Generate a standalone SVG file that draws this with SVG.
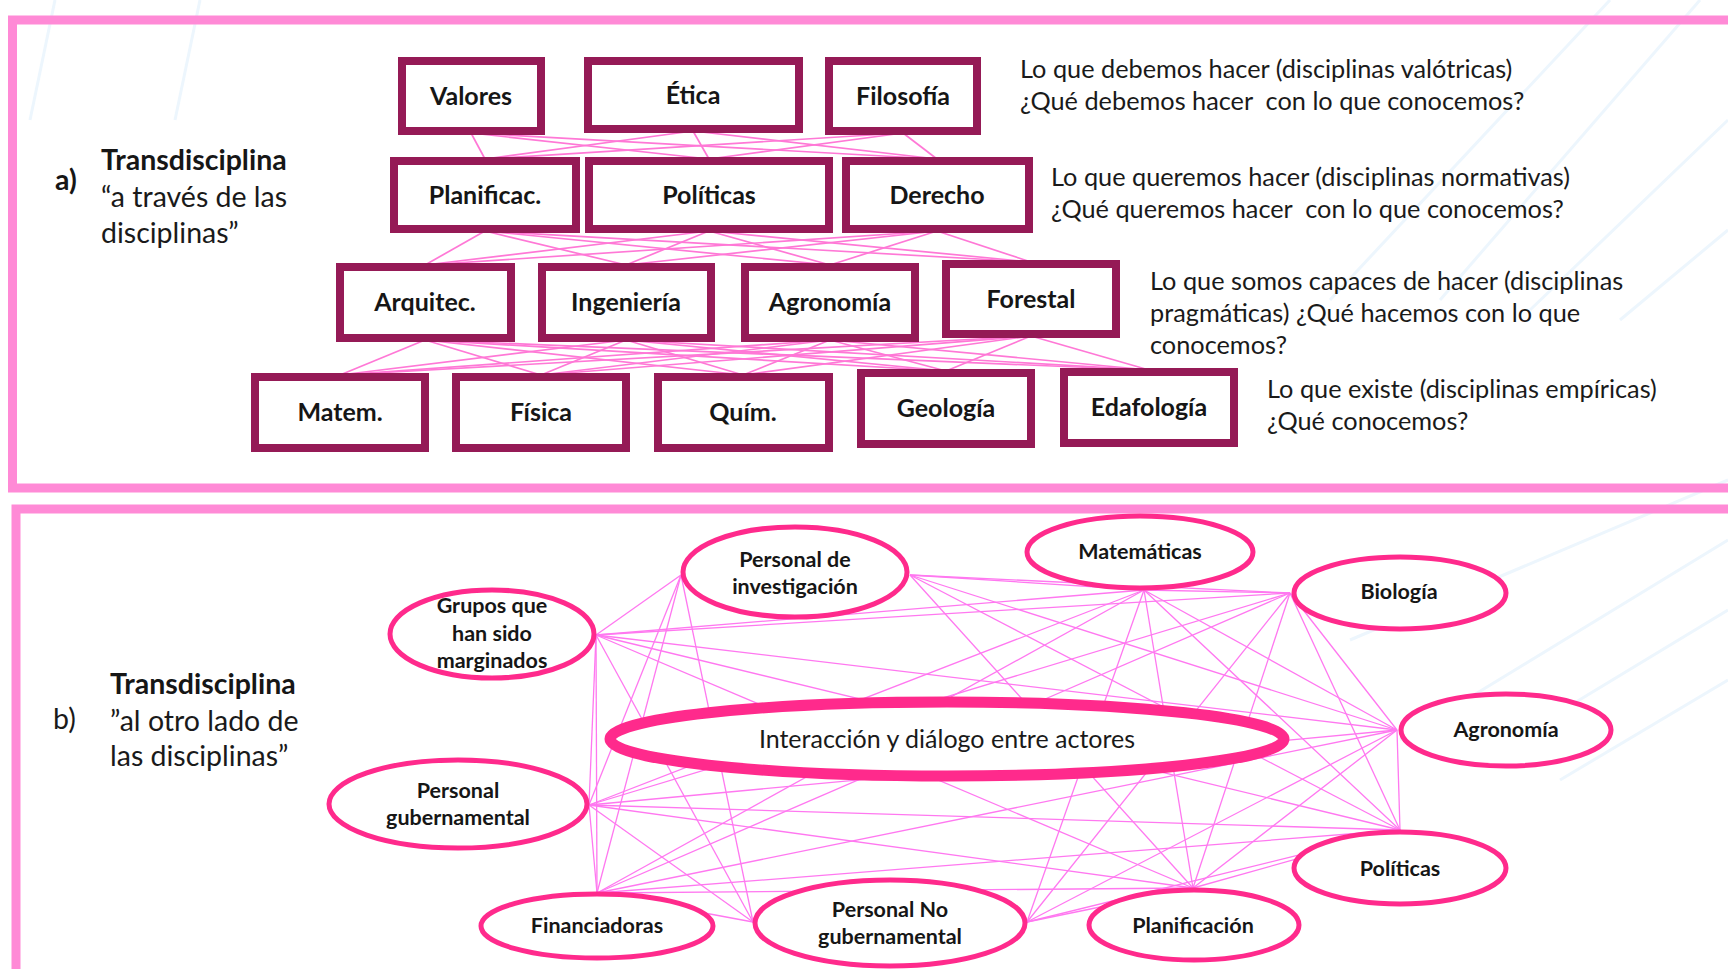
<svg xmlns="http://www.w3.org/2000/svg" width="1728" height="969" viewBox="0 0 1728 969">
  <style>
    .panel { fill: none; stroke: #ff8ad6; stroke-width: 9; }
    .bg { stroke: #edf6fd; stroke-width: 3; fill: none; }
    .box rect { fill: #ffffff; stroke: #951a56; stroke-width: 8; }
    .box text { font-family: Lato, "Open Sans", "Liberation Sans", sans-serif; font-weight: 700; font-size: 25px; fill: #161616; text-anchor: middle; }
    .link-a line { stroke: #ff78d6; stroke-width: 1.7; }
    .link-b line { stroke: #ff78f0; stroke-width: 1.3; }
    .actor ellipse { fill: #ffffff; stroke: #ff2a8c; stroke-width: 5; }
    .actor text { font-family: Lato, "Open Sans", "Liberation Sans", sans-serif; font-weight: 700; font-size: 21.5px; fill: #161616; text-anchor: middle; }
    .hub ellipse { fill: #ffffff; stroke: #ff2a8c; stroke-width: 11; }
    .hub text { font-family: Lato, "Open Sans", "Liberation Sans", sans-serif; font-size: 25px; fill: #1a1a1a; text-anchor: middle; }
    .lbl { font-family: Lato, "Open Sans", "Liberation Sans", sans-serif; font-size: 28.5px; fill: #1a1a1a; }
    .lbl-b { font-family: Lato, "Open Sans", "Liberation Sans", sans-serif; font-size: 28.5px; font-weight: 700; fill: #161616; }
    .desc { font-family: Lato, "Open Sans", "Liberation Sans", sans-serif; font-size: 25.3px; fill: #1a1a1a; }
  </style>

  <rect width="1728" height="969" fill="#ffffff"/>

  <!-- faint diagonal background strokes -->
  <g id="background">
    <line class="bg" x1="1440" y1="300" x2="1700" y2="0"/>
    <line class="bg" x1="1330" y1="300" x2="1610" y2="0"/>
    <line class="bg" x1="1530" y1="310" x2="1728" y2="120"/>
    <line class="bg" x1="1620" y1="320" x2="1728" y2="230"/>
    <line class="bg" x1="1400" y1="740" x2="1728" y2="540"/>
    <line class="bg" x1="1480" y1="760" x2="1728" y2="610"/>
    <line class="bg" x1="1560" y1="780" x2="1728" y2="680"/>
    <line class="bg" x1="1350" y1="640" x2="1728" y2="480"/>
    <line class="bg" x1="30" y1="120" x2="55" y2="0"/>
    <line class="bg" x1="175" y1="120" x2="200" y2="0"/>
  </g>

  <!-- panel frames -->
  <rect class="panel" x="12.5" y="20" width="1740" height="468"/>
  <rect class="panel" x="16" y="509" width="1740" height="480"/>

  <!-- panel labels -->
  <g id="label-a">
    <text class="lbl-b" x="55" y="190" font-size="30">a)</text>
    <text class="lbl-b" x="101" y="170">Transdisciplina</text>
    <text class="lbl" x="101" y="207">“a través de las</text>
    <text class="lbl" x="101" y="243">disciplinas”</text>
  </g>
  <g id="label-b">
    <text class="lbl" x="53" y="729">b)</text>
    <text class="lbl-b" x="110" y="694">Transdisciplina</text>
    <text class="lbl" x="110" y="731">”al otro lado de</text>
    <text class="lbl" x="110" y="766">las disciplinas”</text>
  </g>

  <!-- row descriptions -->
  <g id="descriptions">
    <text class="desc" x="1020" y="78">Lo que debemos hacer (disciplinas valótricas)</text>
    <text class="desc" x="1020" y="110" xml:space="preserve">¿Qué debemos hacer  con lo que conocemos?</text>
    <text class="desc" x="1051" y="186">Lo que queremos hacer (disciplinas normativas)</text>
    <text class="desc" x="1051" y="218" xml:space="preserve">¿Qué queremos hacer  con lo que conocemos?</text>
    <text class="desc" x="1150" y="290">Lo que somos capaces de hacer (disciplinas</text>
    <text class="desc" x="1150" y="322">pragmáticas) ¿Qué hacemos con lo que</text>
    <text class="desc" x="1150" y="354">conocemos?</text>
    <text class="desc" x="1267" y="398">Lo que existe (disciplinas empíricas)</text>
    <text class="desc" x="1267" y="430">¿Qué conocemos?</text>
  </g>

  <!-- connectors between discipline rows -->
  <g id="connectors-a" class="link-a">
    <line x1="471" y1="133" x2="485" y2="159"/>
    <line x1="471" y1="133" x2="709" y2="159"/>
    <line x1="471" y1="133" x2="937" y2="159"/>
    <line x1="693" y1="131" x2="485" y2="159"/>
    <line x1="693" y1="131" x2="709" y2="159"/>
    <line x1="693" y1="131" x2="937" y2="159"/>
    <line x1="903" y1="133" x2="485" y2="159"/>
    <line x1="903" y1="133" x2="709" y2="159"/>
    <line x1="903" y1="133" x2="937" y2="159"/>

    <line x1="485" y1="231" x2="425" y2="265"/>
    <line x1="485" y1="231" x2="626" y2="265"/>
    <line x1="485" y1="231" x2="830" y2="265"/>
    <line x1="485" y1="231" x2="1031" y2="262"/>
    <line x1="709" y1="231" x2="425" y2="265"/>
    <line x1="709" y1="231" x2="626" y2="265"/>
    <line x1="709" y1="231" x2="830" y2="265"/>
    <line x1="709" y1="231" x2="1031" y2="262"/>
    <line x1="937" y1="231" x2="425" y2="265"/>
    <line x1="937" y1="231" x2="626" y2="265"/>
    <line x1="937" y1="231" x2="830" y2="265"/>
    <line x1="937" y1="231" x2="1031" y2="262"/>

    <line x1="425" y1="340" x2="340" y2="375"/>
    <line x1="425" y1="340" x2="541" y2="375"/>
    <line x1="425" y1="340" x2="743" y2="375"/>
    <line x1="425" y1="340" x2="946" y2="371"/>
    <line x1="425" y1="340" x2="1149" y2="370"/>
    <line x1="626" y1="340" x2="340" y2="375"/>
    <line x1="626" y1="340" x2="541" y2="375"/>
    <line x1="626" y1="340" x2="743" y2="375"/>
    <line x1="626" y1="340" x2="946" y2="371"/>
    <line x1="626" y1="340" x2="1149" y2="370"/>
    <line x1="830" y1="340" x2="340" y2="375"/>
    <line x1="830" y1="340" x2="541" y2="375"/>
    <line x1="830" y1="340" x2="743" y2="375"/>
    <line x1="830" y1="340" x2="946" y2="371"/>
    <line x1="830" y1="340" x2="1149" y2="370"/>
    <line x1="1031" y1="336" x2="340" y2="375"/>
    <line x1="1031" y1="336" x2="541" y2="375"/>
    <line x1="1031" y1="336" x2="743" y2="375"/>
    <line x1="1031" y1="336" x2="946" y2="371"/>
    <line x1="1031" y1="336" x2="1149" y2="370"/>
  </g>

  <!-- discipline boxes -->
  <g id="valores" class="box"><rect x="402" y="61" width="139" height="70"/><text x="471" y="105">Valores</text></g>
  <g id="etica" class="box"><rect x="588" y="61" width="211" height="68"/><text x="693" y="104">Ética</text></g>
  <g id="filosofia" class="box"><rect x="829" y="61" width="148" height="70"/><text x="903" y="105">Filosofía</text></g>

  <g id="planificac" class="box"><rect x="394" y="161" width="182" height="68"/><text x="485" y="204">Planificac.</text></g>
  <g id="politicas-a" class="box"><rect x="589" y="161" width="240" height="68"/><text x="709" y="204">Políticas</text></g>
  <g id="derecho" class="box"><rect x="846" y="161" width="183" height="68"/><text x="937" y="204">Derecho</text></g>

  <g id="arquitec" class="box"><rect x="340" y="267" width="171" height="71"/><text x="425" y="311">Arquitec.</text></g>
  <g id="ingenieria" class="box"><rect x="542" y="267" width="169" height="71"/><text x="626" y="311">Ingeniería</text></g>
  <g id="agronomia-a" class="box"><rect x="745" y="267" width="170" height="71"/><text x="830" y="311">Agronomía</text></g>
  <g id="forestal" class="box"><rect x="946" y="264" width="170" height="70"/><text x="1031" y="308">Forestal</text></g>

  <g id="matem" class="box"><rect x="255" y="377" width="170" height="71"/><text x="340" y="421">Matem.</text></g>
  <g id="fisica" class="box"><rect x="456" y="377" width="170" height="71"/><text x="541" y="421">Física</text></g>
  <g id="quim" class="box"><rect x="658" y="377" width="171" height="71"/><text x="743" y="421">Quím.</text></g>
  <g id="geologia" class="box"><rect x="861" y="373" width="170" height="71"/><text x="946" y="417">Geología</text></g>
  <g id="edafologia" class="box"><rect x="1064" y="372" width="170" height="71"/><text x="1149" y="416">Edafología</text></g>

  <!-- connectors between actors -->
  <g id="connectors-b" class="link-b">
    <line x1="596" y1="635" x2="589" y2="805"/>
    <line x1="596" y1="635" x2="597" y2="893"/>
    <line x1="596" y1="635" x2="681" y2="575"/>
    <line x1="596" y1="635" x2="753" y2="922"/>
    <line x1="596" y1="635" x2="1144" y2="590"/>
    <line x1="596" y1="635" x2="1290" y2="593"/>
    <line x1="596" y1="635" x2="1397" y2="730"/>
    <line x1="596" y1="635" x2="1400" y2="830"/>
    <line x1="596" y1="635" x2="1193" y2="888"/>

    <line x1="589" y1="805" x2="597" y2="893"/>
    <line x1="589" y1="805" x2="681" y2="575"/>
    <line x1="589" y1="805" x2="753" y2="922"/>
    <line x1="589" y1="805" x2="1144" y2="590"/>
    <line x1="589" y1="805" x2="1290" y2="593"/>
    <line x1="589" y1="805" x2="1397" y2="730"/>
    <line x1="589" y1="805" x2="1400" y2="830"/>
    <line x1="589" y1="805" x2="1193" y2="888"/>

    <line x1="597" y1="893" x2="681" y2="575"/>
    <line x1="597" y1="893" x2="753" y2="922"/>
    <line x1="597" y1="893" x2="1144" y2="590"/>
    <line x1="597" y1="893" x2="1290" y2="593"/>
    <line x1="597" y1="893" x2="1397" y2="730"/>
    <line x1="597" y1="893" x2="1400" y2="830"/>
    <line x1="597" y1="893" x2="1193" y2="888"/>

    <line x1="681" y1="575" x2="753" y2="922"/>

    <line x1="910" y1="575" x2="1144" y2="590"/>
    <line x1="910" y1="575" x2="1290" y2="593"/>
    <line x1="910" y1="575" x2="1397" y2="730"/>
    <line x1="910" y1="575" x2="1400" y2="830"/>
    <line x1="910" y1="575" x2="1193" y2="888"/>

    <line x1="1027" y1="922" x2="1144" y2="590"/>
    <line x1="1027" y1="922" x2="1290" y2="593"/>
    <line x1="1027" y1="922" x2="1397" y2="730"/>
    <line x1="1027" y1="922" x2="1400" y2="830"/>
    <line x1="1027" y1="922" x2="1193" y2="888"/>

    <line x1="1144" y1="590" x2="1290" y2="593"/>
    <line x1="1144" y1="590" x2="1397" y2="730"/>
    <line x1="1144" y1="590" x2="1400" y2="830"/>
    <line x1="1144" y1="590" x2="1193" y2="888"/>

    <line x1="1290" y1="593" x2="1397" y2="730"/>
    <line x1="1290" y1="593" x2="1400" y2="830"/>
    <line x1="1290" y1="593" x2="1193" y2="888"/>

    <line x1="1397" y1="730" x2="1400" y2="830"/>
    <line x1="1397" y1="730" x2="1193" y2="888"/>

    <line x1="1400" y1="830" x2="1193" y2="888"/>
  </g>

  <!-- central dialogue ellipse -->
  <g id="interaccion" class="hub">
    <ellipse cx="947" cy="739" rx="337" ry="37"/>
    <text x="947" y="748">Interacción y diálogo entre actores</text>
  </g>

  <!-- actors -->
  <g id="personal-investigacion" class="actor">
    <ellipse cx="795" cy="572" rx="112" ry="45"/>
    <text x="795" y="567">Personal de</text>
    <text x="795" y="594">investigación</text>
  </g>
  <g id="matematicas" class="actor">
    <ellipse cx="1140" cy="552" rx="113" ry="36"/>
    <text x="1140" y="559">Matemáticas</text>
  </g>
  <g id="biologia" class="actor">
    <ellipse cx="1400" cy="593" rx="106" ry="36"/>
    <text x="1399" y="599">Biología</text>
  </g>
  <g id="agronomia-b" class="actor">
    <ellipse cx="1506" cy="730" rx="105" ry="36"/>
    <text x="1506" y="737">Agronomía</text>
  </g>
  <g id="politicas-b" class="actor">
    <ellipse cx="1400" cy="868" rx="106" ry="36"/>
    <text x="1400" y="876">Políticas</text>
  </g>
  <g id="planificacion" class="actor">
    <ellipse cx="1194" cy="925" rx="105" ry="35"/>
    <text x="1193" y="933">Planificación</text>
  </g>
  <g id="personal-no-gubernamental" class="actor">
    <ellipse cx="890" cy="923" rx="135" ry="43"/>
    <text x="890" y="917">Personal No</text>
    <text x="890" y="944">gubernamental</text>
  </g>
  <g id="financiadoras" class="actor">
    <ellipse cx="597" cy="926" rx="116" ry="32"/>
    <text x="597" y="933">Financiadoras</text>
  </g>
  <g id="personal-gubernamental" class="actor">
    <ellipse cx="458" cy="804" rx="129" ry="44"/>
    <text x="458" y="798">Personal</text>
    <text x="458" y="825">gubernamental</text>
  </g>
  <g id="grupos-marginados" class="actor">
    <ellipse cx="492" cy="634" rx="102" ry="44"/>
    <text x="492" y="613">Grupos que</text>
    <text x="492" y="641">han sido</text>
    <text x="492" y="668">marginados</text>
  </g>
</svg>
